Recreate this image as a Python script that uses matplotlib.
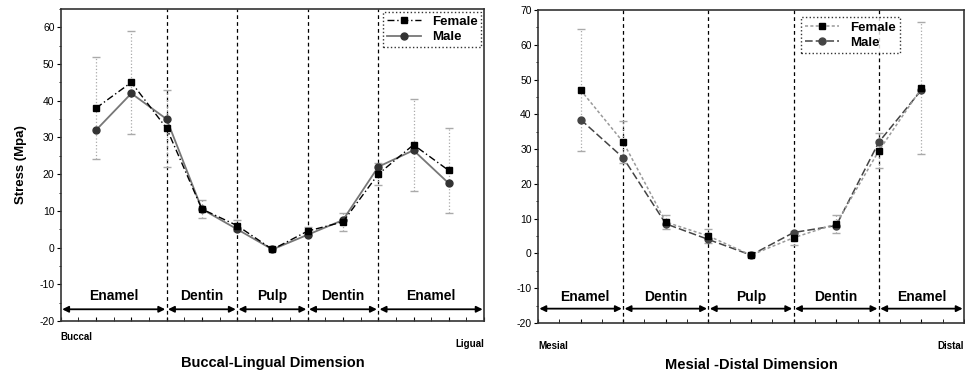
import matplotlib.pyplot as plt
from matplotlib.ticker import MultipleLocator

plt.rcParams['font.family'] = ['Liberation Sans', 'DejaVu Sans']
plt.rcParams['axes.unicode_minus'] = False

# Left panel: buccal-lingual
bl_x = [1, 2, 3, 4, 5, 6, 7, 8, 9, 10, 11]
bl_female = [38, 45, 32.5, 10.5, 6, -0.5, 4.5, 7, 20, 28, 21]
bl_male = [32, 42, 35, 10.5, 5, -0.5, 3.5, 7.5, 22, 26.5, 17.5]
bl_err = [14, 14, 10.5, 2.5, 1.5, 0.5, 1, 2.5, 3, 12.5, 11.5]
bl_bounds = [0, 3, 5, 7, 9, 12]
bl_regions = ['Enamel', 'Dentin', 'Pulp', 'Dentin', 'Enamel']

# Right panel: mesial-distal
md_x = [1, 2, 3, 4, 5, 6, 7, 8, 9]
md_female = [47, 32, 9, 5, -0.5, 4.5, 8.5, 29.5, 47.5]
md_male = [38.5, 27.5, 8.5, 4, -0.5, 6, 8, 32, 47]
md_err = [17.5, 6, 2, 2, 0.5, 2, 2.5, 5, 19]
md_bounds = [0, 2, 4, 6, 8, 10]
md_regions = ['Enamel', 'Dentin', 'Pulp', 'Dentin', 'Enamel']
md_label_x = [1.1, 3, 5, 7, 9]

fig = plt.figure(figsize=(9.65, 3.72), dpi=100)
ax1 = fig.add_axes([0.063, 0.137, 0.4386, 0.839])
ax2 = fig.add_axes([0.5575, 0.132, 0.4415, 0.841])


def region_arrows(ax, bounds, names, label_x, y_arrow, y_text):
    for i in range(len(bounds) - 1):
        ax.annotate('', xy=(bounds[i], y_arrow), xytext=(bounds[i + 1], y_arrow),
                    arrowprops=dict(arrowstyle='<|-|>', color='black', lw=1.3,
                                    mutation_scale=9, shrinkA=1, shrinkB=1))
        ax.text(label_x[i], y_text, names[i], ha='center', va='center',
                fontsize=10, fontweight='bold')
    for b in bounds[1:-1]:
        ax.axvline(b, color='black', ls=(0, (3, 2.5)), lw=0.9, zorder=1)


def style_axes(ax, xmax, ylo, yhi):
    ax.set_xlim(0, xmax)
    ax.set_ylim(ylo, yhi)
    ax.xaxis.set_major_locator(MultipleLocator(1))
    ax.xaxis.set_minor_locator(MultipleLocator(0.5))
    ax.yaxis.set_major_locator(MultipleLocator(10))
    ax.yaxis.set_minor_locator(MultipleLocator(5))
    ax.set_xticklabels([])
    ax.tick_params(axis='x', which='both', direction='in', length=3, top=False)
    ax.tick_params(axis='y', which='major', direction='out', length=3, labelsize=7.5, pad=1.5)
    ax.tick_params(axis='y', which='minor', direction='out', length=1.5)
    for s in ax.spines.values():
        s.set_linewidth(1.2)
        s.set_color('#333333')


def gray_errorbars(ax, x, y, err):
    eb = ax.errorbar(x, y, yerr=err, fmt='none', ecolor='#aaaaaa',
                     elinewidth=0.9, capsize=3, zorder=2)
    for lc in eb[2]:
        lc.set_linestyle(':')


# Left
gray_errorbars(ax1, bl_x, bl_female, bl_err)
ax1.plot(bl_x, bl_female, color='black', ls=(0, (5, 2, 1, 2)), lw=1,
         marker='s', ms=5, mfc='black', mec='black', label='Female', zorder=4)
ax1.plot(bl_x, bl_male, color='#777777', ls='-', lw=1.3,
         marker='o', ms=5, mfc='#333333', mec='#333333', label='Male', zorder=3)
region_arrows(ax1, bl_bounds, bl_regions,
              [(bl_bounds[i] + bl_bounds[i + 1]) / 2 for i in range(5)], -16.8, -13.3)
style_axes(ax1, 12, -20, 65)
ax1.set_ylabel('Stress (Mpa)', fontsize=9.5, fontweight='bold', labelpad=9)
ax1.set_xlabel('Buccal-Lingual Dimension', fontsize=10.5, fontweight='bold', labelpad=22)
ax1.text(0, -0.05, 'Buccal', transform=ax1.transAxes, fontsize=7, fontweight='bold',
         ha='left', va='center')
ax1.text(1, -0.075, 'Ligual', transform=ax1.transAxes, fontsize=7, fontweight='bold',
         ha='right', va='center')
leg1 = ax1.legend(loc='upper right', prop={'weight': 'bold', 'size': 9.5},
                  fancybox=False, edgecolor='black', borderpad=0.3, handlelength=2.6,
                  labelspacing=0.25, borderaxespad=0.2)
leg1.get_frame().set_linestyle(':')
leg1.get_frame().set_linewidth(1)

# Right
gray_errorbars(ax2, md_x, md_female, md_err)
ax2.plot(md_x, md_female, color='#999999', ls=(0, (2, 1.5)), lw=1.1,
         marker='s', ms=5, mfc='black', mec='black', label='Female', zorder=4)
ax2.plot(md_x, md_male, color='#444444', ls=(0, (5, 2)), lw=1.1,
         marker='o', ms=5, mfc='#444444', mec='#444444', label='Male', zorder=3)
region_arrows(ax2, md_bounds, md_regions, md_label_x, -15.9, -12.6)
style_axes(ax2, 10, -20, 70)
ax2.set_xlabel('Mesial -Distal Dimension', fontsize=10.5, fontweight='bold', labelpad=22)
ax2.text(0, -0.075, 'Mesial', transform=ax2.transAxes, fontsize=7, fontweight='bold',
         ha='left', va='center')
ax2.text(1, -0.075, 'Distal', transform=ax2.transAxes, fontsize=7, fontweight='bold',
         ha='right', va='center')
leg2 = ax2.legend(loc='upper right', bbox_to_anchor=(0.855, 0.985),
                  prop={'weight': 'bold', 'size': 9.5},
                  fancybox=False, edgecolor='black', borderpad=0.3, handlelength=2.6,
                  labelspacing=0.25, borderaxespad=0.2)
leg2.get_frame().set_linestyle(':')
leg2.get_frame().set_linewidth(1)

fig.savefig('out.png', dpi=100)
